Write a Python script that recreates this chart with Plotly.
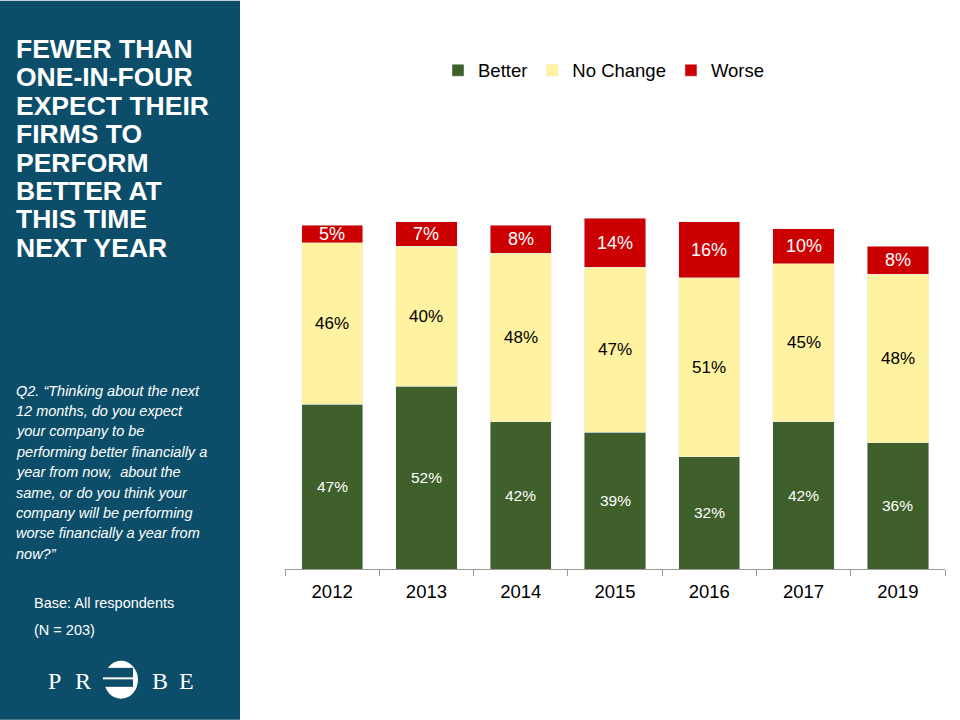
import plotly.graph_objects as go

years = ["2012", "2013", "2014", "2015", "2016", "2017", "2019"]
better = [47, 52, 42, 39, 32, 42, 36]
no_change = [46, 40, 48, 47, 51, 45, 48]
worse = [5, 7, 8, 14, 16, 10, 8]

title_lines = ["FEWER THAN", "ONE-IN-FOUR", "EXPECT THEIR", "FIRMS TO",
               "PERFORM", "BETTER AT", "THIS TIME", "NEXT YEAR"]
question_lines = ["Q2. \u201cThinking about the next", "12 months, do you expect",
                  "your company to be", "performing better financially a",
                  "year from now,  about the", "same, or do you think your",
                  "company will be performing", "worse financially a year from",
                  "now?\u201d"]
base_lines = ["Base: All respondents", "(N = 203)"]

C_BETTER = "#3F5F2B"
C_NOCH = "#FFF2A1"
C_WORSE = "#CC0000"
PANEL = "#0C4E69"
FONT = "Liberation Sans, Arial, sans-serif"

W, H = 960, 720
L, R, T, B = 285, 15, 217.5, 151
pw, ph = W - L - R, H - T - B


def px(x):
    return (x - L) / pw


def py(y):
    return (H - B - y) / ph


fig = go.Figure()
fig.add_bar(x=years, y=better, name="Better", marker_color=C_BETTER)
fig.add_bar(x=years, y=no_change, name="No Change", marker_color=C_NOCH)
fig.add_bar(x=years, y=worse, name="Worse", marker_color=C_WORSE)

ann = []
for i, yr in enumerate(years):
    b, n, w = better[i], no_change[i], worse[i]
    ann.append(dict(x=i, y=b / 2, xref="x", yref="y", text=f"{b}%", showarrow=False,
                    font=dict(family=FONT, size=15.5, color="white")))
    ann.append(dict(x=i, y=b + n / 2, xref="x", yref="y", text=f"{n}%", showarrow=False,
                    font=dict(family=FONT, size=17, color="black")))
    ann.append(dict(x=i, y=b + n + w / 2, xref="x", yref="y", text=f"{w}%", showarrow=False,
                    font=dict(family=FONT, size=18, color="white")))

for i, line in enumerate(title_lines):
    ann.append(dict(x=px(14), y=py(48 + 28.5 * i), xref="paper", yref="paper", text=f"<b>{line}</b>",
                    showarrow=False, xanchor="left", yanchor="middle",
                    font=dict(family=FONT, size=26.5, color="white")))
for i, line in enumerate(question_lines):
    ann.append(dict(x=px(14), y=py(390.5 + 20.4 * i), xref="paper", yref="paper", text=f"<i>{line}</i>",
                    showarrow=False, xanchor="left", yanchor="middle",
                    font=dict(family=FONT, size=14.5, color="white")))
for i, line in enumerate(base_lines):
    ann.append(dict(x=px(32), y=py(603.5 + 26.5 * i), xref="paper", yref="paper", text=line,
                    showarrow=False, xanchor="left", yanchor="middle",
                    font=dict(family=FONT, size=14.5, color="white")))
for ch, cx in [("P", 54), ("R", 83), ("B", 160), ("E", 186)]:
    ann.append(dict(x=px(cx), y=py(681), xref="paper", yref="paper", text=ch,
                    showarrow=False, xanchor="center", yanchor="middle",
                    font=dict(family="Liberation Serif, serif", size=24, color="white")))

shapes = [
    dict(type="rect", xref="paper", yref="paper", x0=px(0), x1=px(240), y0=py(720), y1=py(0),
         fillcolor=PANEL, line_width=0, layer="below"),
    dict(type="circle", xref="paper", yref="paper", x0=px(104), x1=px(138), y0=py(699), y1=py(661),
         fillcolor="white", line_width=0),
    dict(type="rect", xref="paper", yref="paper", x0=px(103), x1=px(133), y0=py(687), y1=py(668),
         fillcolor=PANEL, line_width=0),
    dict(type="rect", xref="paper", yref="paper", x0=px(103), x1=px(133), y0=py(679.5), y1=py(677.5),
         fillcolor="white", line_width=0),
]

fig.update_layout(
    width=W, height=H,
    barmode="stack", bargap=0.35,
    paper_bgcolor="white", plot_bgcolor="white",
    margin=dict(l=L, r=R, t=T, b=B, pad=0),
    font=dict(family=FONT, color="black"),
    showlegend=True,
    legend=dict(orientation="h", x=px(604), y=py(70), xanchor="center", yanchor="middle",
                font=dict(family=FONT, size=18.5, color="black"), traceorder="normal",
                itemwidth=30, bgcolor="rgba(0,0,0,0)"),
    annotations=ann,
    shapes=shapes,
)
fig.update_xaxes(type="category", range=[-0.5, len(years) - 0.5], showline=True, linecolor="#9A9A9A",
                 linewidth=1, ticks="outside", tickson="boundaries", ticklen=6, tickcolor="#9A9A9A",
                 ticklabelstandoff=6,
                 tickfont=dict(family=FONT, size=18.5, color="black"), showgrid=False)
fig.update_yaxes(range=[0, 100], visible=False, showgrid=False, zeroline=False)

fig.write_html("out.html", config={"displayModeBar": False},
               post_script="document.body.style.margin='0';document.body.style.padding='0';")
